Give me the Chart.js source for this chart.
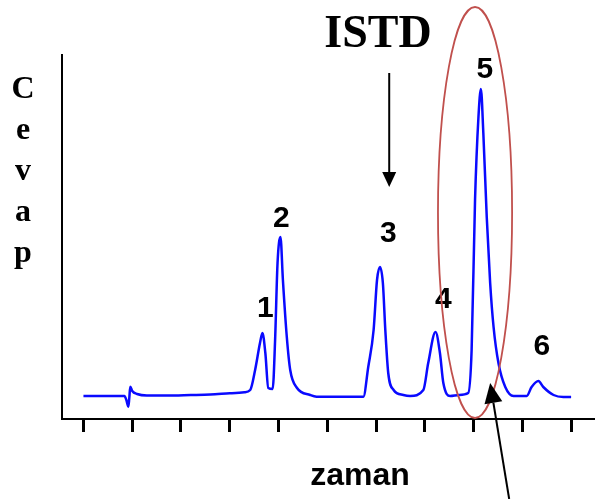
<!DOCTYPE html>
<html>
<head>
<meta charset="utf-8">
<script src="https://cdn.jsdelivr.net/npm/chart.js@4.4.1/dist/chart.umd.min.js"></script>
<style>
html,body{margin:0;padding:0;background:#fff;}
#wrap{position:relative;width:595px;height:499px;}
</style>
</head>
<body>
<div id="wrap"><canvas id="c" width="595" height="499"></canvas></div>
<script>
// Retention time (x) and detector response (y)
const timeVals = [0, 0.5, 0.84, 0.88, 0.92, 0.94, 0.96, 1.0, 1.1, 1.3, 1.7, 2.2, 2.6, 3.0, 3.3, 3.42, 3.52, 3.62, 3.67, 3.73, 3.79, 3.88, 3.93, 3.98, 4.04, 4.09, 4.17, 4.24, 4.38, 4.65, 4.78, 5.2, 5.74, 5.84, 5.95, 6.02, 6.08, 6.14, 6.19, 6.25, 6.36, 6.56, 6.7, 6.97, 7.07, 7.22, 7.31, 7.38, 7.52, 7.7, 7.89, 7.96, 8.03, 8.10, 8.15, 8.20, 8.27, 8.34, 8.41, 8.51, 8.65, 8.82, 9.09, 9.19, 9.33, 9.43, 9.64, 9.84, 10.0];
const responseVals = [0, 0, 0, -4, -10.7, -2, 9.3, 5, 2, 0.5, 0.5, 1, 1.5, 2.7, 3.7, 6, 26, 53, 63, 43, 8, 7, 56, 133, 159, 116, 59, 26, 8, 1, -0.7, -0.7, -0.7, 29, 66, 116, 129, 113, 66, 23, 6, 1, 0, 6, 33, 64, 43, 13, 0, 1, 3, 46, 196, 279, 307, 263, 179, 113, 69, 33, 9, 0, 0, 9, 15, 9, 1, -1, -1];
const xTicks = [0, 1, 2, 3, 4, 5, 6, 7, 8, 9, 10];
const peakNames = ['1', '2', '3', '4', '5', '6'];
const peakLabelX = [3.73, 4.06, 6.25, 7.38, 8.23, 9.40];
const peakLabelY = [79, 169, 154, 88, 318, 41];
const yTitleLetters = ['C', 'e', 'v', 'a', 'p'];
const xTitle = 'zaman';
const istdText = 'ISTD';

const points = timeVals.map((t, i) => ({x: t, y: responseVals[i]}));

function arrow(ctx, x1, y1, x2, y2, head, half) {
  const a = Math.atan2(y2 - y1, x2 - x1);
  const bx = x2 - head * Math.cos(a), by = y2 - head * Math.sin(a);
  ctx.beginPath();
  ctx.moveTo(x1, y1);
  ctx.lineTo(bx, by);
  ctx.stroke();
  ctx.beginPath();
  ctx.moveTo(x2, y2);
  ctx.lineTo(bx + half * Math.sin(a), by - half * Math.cos(a));
  ctx.lineTo(bx - half * Math.sin(a), by + half * Math.cos(a));
  ctx.closePath();
  ctx.fill();
}

const deco = {
  id: 'deco',
  afterDraw(chart) {
    const ctx = chart.ctx, xs = chart.scales.x, ys = chart.scales.y;
    const X = v => xs.getPixelForValue(v), Y = v => ys.getPixelForValue(v);
    ctx.save();
    // peak numbers
    ctx.fillStyle = '#000';
    ctx.font = 'bold 30px "Liberation Sans", Arial, sans-serif';
    ctx.textAlign = 'center';
    ctx.textBaseline = 'alphabetic';
    peakNames.forEach((n, i) => ctx.fillText(n, X(peakLabelX[i]), Y(peakLabelY[i])));
    // ISTD
    ctx.font = 'bold 46px "Liberation Serif", "Times New Roman", serif';
    ctx.fillText(istdText, X(6.04), Y(349));
    // ISTD arrow
    ctx.strokeStyle = '#000';
    ctx.lineWidth = 2;
    arrow(ctx, X(6.27), Y(323), X(6.27), Y(209), 15, 7);
    // y title letters
    ctx.font = 'bold 32px "Liberation Serif", "Times New Roman", serif';
    const ly = [98, 139, 180, 221, 262];
    yTitleLetters.forEach((l, i) => ctx.fillText(l, 23, ly[i]));
    // x title
    ctx.font = 'bold 32px "Liberation Sans", Arial, sans-serif';
    ctx.fillText(xTitle, 360, 485);
    // ellipse
    ctx.strokeStyle = '#c0504d';
    ctx.lineWidth = 1.8;
    ctx.beginPath();
    const cx = X(8.03), cy = Y(183.5);
    const rx = X(8.03 + 0.76) - cx, ry = Y(183.5 - 205.5) - cy;
    ctx.ellipse(cx, cy, rx, ry, 0, 0, Math.PI * 2);
    ctx.stroke();
    // bottom arrow
    ctx.strokeStyle = '#000';
    ctx.fillStyle = '#000';
    ctx.lineWidth = 2;
    arrow(ctx, X(8.73), Y(-103), X(8.34), Y(13), 20, 9);
    ctx.restore();
  }
};

new Chart(document.getElementById('c'), {
  type: 'line',
  data: {
    datasets: [{
      data: points,
      borderColor: '#0a0aff',
      borderWidth: 2.5,
      pointRadius: 0,
      fill: false,
      cubicInterpolationMode: 'monotone'
    }]
  },
  options: {
    responsive: false,
    animation: false,
    events: [],
    layout: {padding: {left: 54, top: 55, right: 0, bottom: 67}},
    plugins: {legend: {display: false}, tooltip: {enabled: false}},
    scales: {
      x: {
        type: 'linear',
        min: -0.44,
        max: 10.49,
        afterBuildTicks: s => { s.ticks = xTicks.map(v => ({value: v})); },
        grid: {display: true, drawOnChartArea: false, drawTicks: true, tickLength: 13, tickWidth: 3, tickColor: '#000'},
        border: {display: true, color: '#000', width: 2},
        ticks: {display: false}
      },
      y: {
        type: 'linear',
        min: -23,
        max: 341,
        grid: {display: false},
        border: {display: true, color: '#000', width: 2},
        ticks: {display: false}
      }
    }
  },
  plugins: [deco]
});
</script>
</body>
</html>
